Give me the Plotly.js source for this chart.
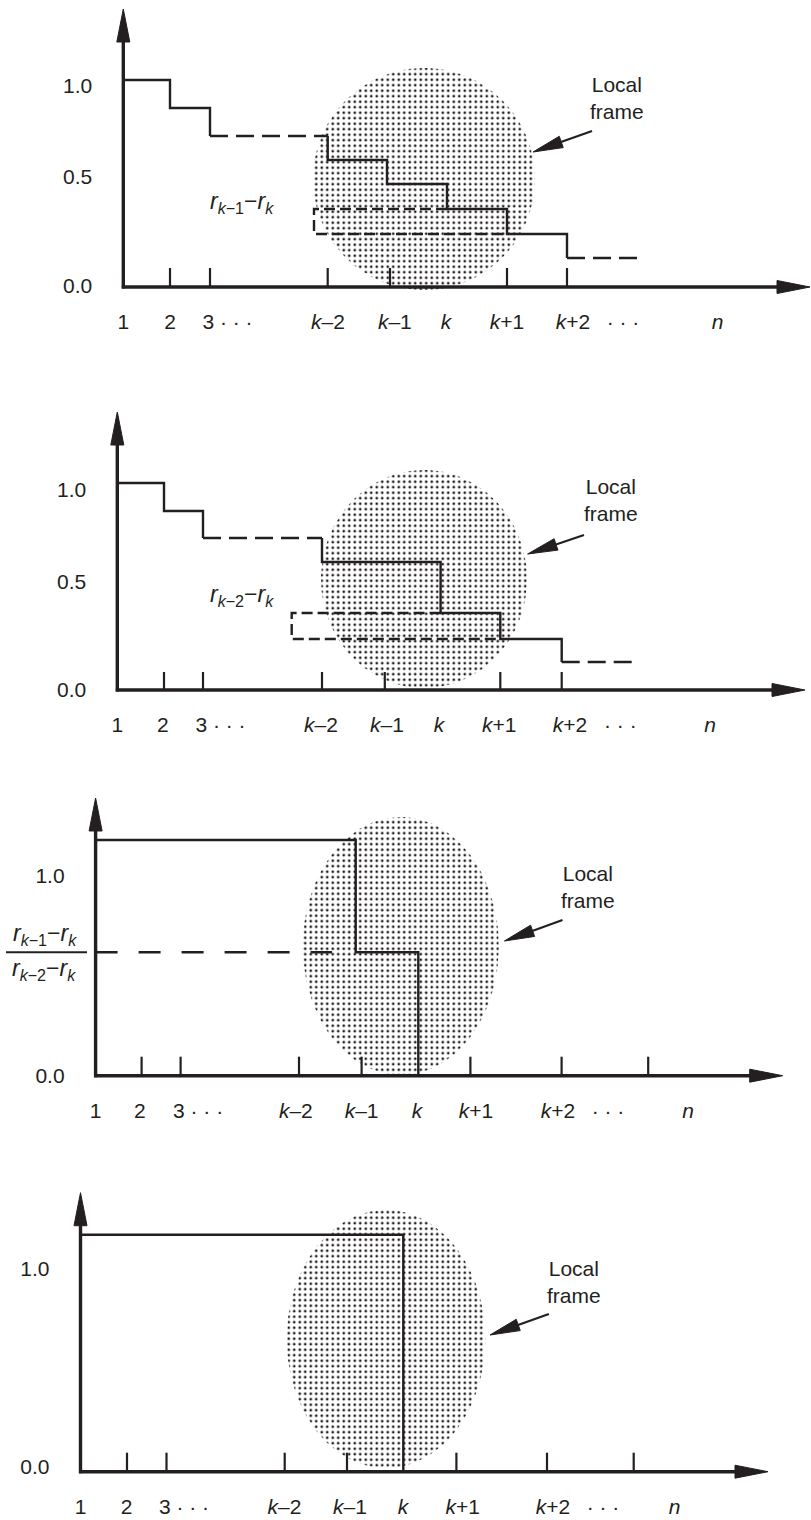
<!DOCTYPE html>
<html><head><meta charset="utf-8">
<script src="https://cdn.plot.ly/plotly-3.0.1.min.js"></script>
<style>html,body{margin:0;padding:0;background:#fff}</style>
</head><body><div id="chart" style="width:811px;height:1520px"></div>
<script>
// ---------- data ----------
const xTickText = ['1','2','3 · · ·','<i>k</i>–2','<i>k</i>–1','<i>k</i>','<i>k</i>+1','<i>k</i>+2','· · ·','<i>n</i>'];
const yTickText3 = ['1.0','0.5','0.0'];
const yTickText2 = ['1.0','0.0'];

// panel 1
const p1LabelX = [0, 46.7, 104.2, 204.7, 271.5, 322.7, 383.7, 449.7, 499.7, 594.2];
const p1TickX  = [46.7, 86.7, 204.4, 266.7, 383.7, 443.7];
const p1Bounds = [0, 46.7, 86.7, 204.4, 263.7, 323.7, 383.7, 443.7, 516];
const p1Levels = [207, 179, 151, 127, 103, 78, 53, 29];
const p1YTicks = [201, 110, 1];
// panel 2
const p2LabelX = [0, 45.5, 103.2, 203.7, 269.7, 321.7, 382, 452.7, 503, 592.7];
const p2TickX  = [46.7, 85.7, 204.7, 267.5, 383, 444.4];
const p2Bounds = [0, 46.7, 85.7, 204.7, 323.3, 383, 444.4, 515.7];
const p2Levels = [207, 179, 152, 128, 77, 51, 28];
const p2YTicks = [200, 108, 0];
// panel 3
const p3LabelX = [0, 44.2, 102.5, 200.2, 266, 321.4, 380.4, 462.4, 512.4, 592.4];
const p3TickX  = [46, 85, 203.4, 266, 374.8, 466, 552.6];
const p3Bounds = [0, 260.1, 322.7, 322.7];
const p3Levels = [235.7, 123.4, 0];
const p3RatioEnd = 236.4;
const p3YTicks = [199.7, 0];
// panel 4
const p4LabelX = [0, 46.2, 103.5, 204, 269.5, 322.5, 382.2, 472.5, 522.5, 594];
const p4TickX  = [46.5, 86, 204.2, 266.5, 375.9, 466.5, 553.2];
const p4Bounds = [0, 322.8, 322.8];
const p4Levels = [237, 0];
const p4YTicks = [202.7, 5];

// ---------- layout geometry (page pixels) ----------
const W = 811, H = 1520;
const INK = '#231f20';
const FONT = '"Liberation Sans", Arial, Helvetica, sans-serif';
const FS = 21;

const panels = [
  {ox:123.3, oy:287,   top:0,    bot:380,  labelX:p1LabelX, tickX:p1TickX, tickLen:19, bounds:p1Bounds, levels:p1Levels, dashed:[2,7],
   yTicks:p1YTicks, yText:yTickText3, tipX:686.7, tipY:278, ell:[300.7,108,111,111], local:[493.7,189.5], arr:[468.7,156,409.7,135],
   rect:{left:190.7, i:4}, diffText:'<i>r</i><sub><i>k</i>−1</sub>−<i>r</i><sub><i>k</i></sub>', diffPos:[118.7,85]},
  {ox:117.3, oy:690,   top:380,  bot:770,  labelX:p2LabelX, tickX:p2TickX, tickLen:18, bounds:p2Bounds, levels:p2Levels, dashed:[2,6],
   yTicks:p2YTicks, yText:yTickText3, tipX:687.7, tipY:278, ell:[306.7,111,103,109], local:[494,190], arr:[466.7,155,410.3,136],
   rect:{left:174.4, i:3}, diffText:'<i>r</i><sub><i>k</i>−2</sub>−<i>r</i><sub><i>k</i></sub>', diffPos:[124.7,95]},
  {ox:95.6,  oy:1075.7, top:770, bot:1160, labelX:p3LabelX, tickX:p3TickX, tickLen:19, bounds:p3Bounds, levels:p3Levels, dashed:[],
   yTicks:p3YTicks, yText:yTickText2, tipX:687.1, tipY:277.7, ell:[305.2,129.7,98,129], local:[492.4,189.2], arr:[466.9,155.7,408.8,134.7],
   ratio:true},
  {ox:80.5,  oy:1471.7, top:1160, bot:1520, labelX:p4LabelX, tickX:p4TickX, tickLen:19, bounds:p4Bounds, levels:p4Levels, dashed:[],
   yTicks:p4YTicks, yText:yTickText2, tipX:687.5, tipY:279, ell:[305.5,132.7,99.3,129], local:[493.3,190], arr:[468.4,157.7,409.5,136.7]}
];

// ---------- helpers ----------
function stairs(bounds, levels, dashedIdx){
  const solid={x:[],y:[]}, dashed={x:[],y:[]};
  let run=[];
  const flush=()=>{ if(run.length>1){ run.forEach(p=>{solid.x.push(p[0]);solid.y.push(p[1]);}); solid.x.push(null); solid.y.push(null);} run=[]; };
  for(let i=0;i<levels.length;i++){
    const a=[bounds[i],levels[i]], b=[bounds[i+1],levels[i]];
    if(dashedIdx.includes(i)){
      flush();
      dashed.x.push(a[0],b[0],null); dashed.y.push(a[1],b[1],null);
      run=[b];
    } else {
      const last=run[run.length-1];
      if(!last || last[0]!==a[0] || last[1]!==a[1]) run.push(a);
      if(b[0]!==a[0]) run.push(b);
    }
    if(i+1<levels.length) run.push([bounds[i+1],levels[i+1]]);
  }
  flush();
  return {solid, dashed};
}
function ellipse(cx,cy,rx,ry){
  const x=[],y=[];
  for(let i=0;i<=160;i++){const t=2*Math.PI*i/160; x.push(cx+rx*Math.cos(t)); y.push(cy+ry*Math.sin(t));}
  return {x,y};
}
function arrow(x0,y0,x1,y1,len,half){
  const dx=x1-x0, dy=y1-y0, L=Math.hypot(dx,dy), ux=dx/L, uy=dy/L;
  const bx=x1-ux*len, by=y1-uy*len;
  return {shaft:{x:[x0,bx+ux*4],y:[y0,by+uy*4]},
          head:{x:[x1,bx-uy*half,bx+uy*half,x1], y:[y1,by+ux*half,by-ux*half,y1]}};
}

const traces=[], annotations=[];
const layout={width:W,height:H,margin:{l:0,r:0,t:0,b:0,pad:0},showlegend:false,
  paper_bgcolor:'#fff',plot_bgcolor:'rgba(0,0,0,0)',annotations};

panels.forEach((p,idx)=>{
  const n=idx+1, xa='x'+(n===1?'':n), ya='y'+(n===1?'':n);
  const xk='xaxis'+(n===1?'':n), yk='yaxis'+(n===1?'':n);
  layout[xk]={domain:[0,1], range:[-p.ox, W-p.ox], anchor:'free', position:(H-p.oy)/H,
    showgrid:false, zeroline:false, showline:false, ticks:'', tickangle:0,
    tickmode:'array', tickvals:p.labelX, ticktext:xTickText,
    tickfont:{family:FONT,size:FS,color:INK}, ticklabelstandoff:20, fixedrange:true};
  layout[yk]={domain:[(H-p.bot)/H,(H-p.top)/H], range:[p.oy-p.bot, p.oy-p.top], anchor:'free', position:p.ox/W,
    showgrid:false, zeroline:false, showline:false, ticks:'',
    tickmode:'array', tickvals:p.yTicks, ticktext:p.yText,
    tickfont:{family:FONT,size:FS,color:INK}, ticklabelstandoff:31, fixedrange:true};
  const base={xaxis:xa,yaxis:ya,type:'scatter',mode:'lines',hoverinfo:'skip'};

  // stippled local frame
  const e=ellipse(...p.ell);
  traces.push({...base,x:e.x,y:e.y,fill:'toself',fillcolor:'rgba(0,0,0,0)',
    fillpattern:{shape:'.',size:5.5,solidity:0.19,fgcolor:INK,bgcolor:'rgba(255,255,255,0)',fillmode:'replace'},
    line:{width:0,color:'rgba(0,0,0,0)'}});

  // step function
  const s=stairs(p.bounds,p.levels,p.dashed);
  traces.push({...base,x:s.solid.x,y:s.solid.y,line:{color:INK,width:2.4}});
  if(s.dashed.x.length) traces.push({...base,x:s.dashed.x,y:s.dashed.y,line:{color:INK,width:2.4,dash:'18px,8px'}});

  // difference rectangle
  if(p.rect){
    const i=p.rect.i, L=p.rect.left;
    traces.push({...base,
      x:[p.bounds[i+1], L, L, p.bounds[i+2]],
      y:[p.levels[i+1], p.levels[i+1], p.levels[i+2], p.levels[i+2]],
      line:{color:INK,width:2.4,dash:'11px,5px'}});
    annotations.push({xref:xa,yref:ya,x:p.diffPos[0],y:p.diffPos[1],text:p.diffText,showarrow:false,
      font:{family:FONT,size:23,color:INK}});
  }
  // ratio line (panel 3)
  if(p.ratio){
    const lvl=p.levels[1];
    traces.push({...base,x:[0,p3RatioEnd],y:[lvl,lvl],line:{color:INK,width:2.4,dash:'22px,21px'}});
    traces.push({...base,x:[-89.6,-8.6],y:[lvl,lvl],line:{color:INK,width:2}});
    annotations.push({xref:xa,yref:ya,x:-50.6,y:lvl+1,yanchor:'bottom',showarrow:false,
      text:'<i>r</i><sub><i>k</i>−1</sub>−<i>r</i><sub><i>k</i></sub>',font:{family:FONT,size:23,color:INK}});
    annotations.push({xref:xa,yref:ya,x:-51.6,y:lvl-1,yanchor:'top',showarrow:false,
      text:'<i>r</i><sub><i>k</i>−2</sub>−<i>r</i><sub><i>k</i></sub>',font:{family:FONT,size:23,color:INK}});
  }

  // tick marks
  const tx=[],ty=[];
  p.tickX.forEach(v=>{tx.push(v,v,null);ty.push(0,p.tickLen,null);});
  traces.push({...base,x:tx,y:ty,line:{color:INK,width:2.2}});

  // axes with arrowheads
  const ay=arrow(0,-1.5,0,p.tipY,33,6.5), ax=arrow(-1.5,0,p.tipX,0,33,6.5);
  [ay,ax].forEach(a=>{
    traces.push({...base,x:a.shaft.x,y:a.shaft.y,line:{color:INK,width:3.4}});
    traces.push({...base,x:a.head.x,y:a.head.y,fill:'toself',fillcolor:INK,line:{color:INK,width:1}});
  });

  // Local frame label + arrow
  annotations.push({xref:xa,yref:ya,x:p.local[0],y:p.local[1],text:'Local<br>frame',showarrow:false,
    font:{family:FONT,size:FS,color:INK}});
  const la=arrow(...p.arr,30,6);
  traces.push({...base,x:la.shaft.x,y:la.shaft.y,line:{color:INK,width:2.2}});
  traces.push({...base,x:la.head.x,y:la.head.y,fill:'toself',fillcolor:INK,line:{color:INK,width:1}});
});

Plotly.newPlot('chart',traces,layout,{staticPlot:true,displayModeBar:false});
</script></body></html>
